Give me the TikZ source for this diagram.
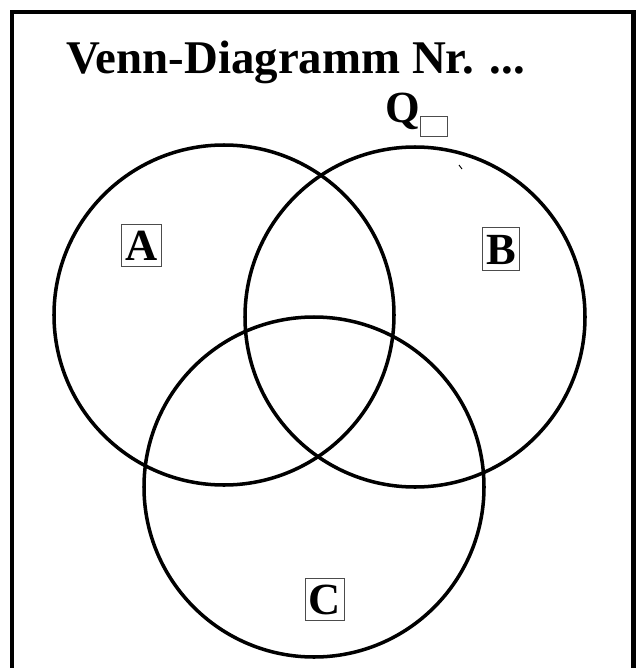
\documentclass[tikz,border=0pt]{standalone}
\usepackage{fontspec}
\setmainfont{Liberation Serif}
\usetikzlibrary{calc}

\begin{document}
\begin{tikzpicture}[x=0.03cm,y=-0.03cm,
    kreis/.style={line width=3pt},
    marke/.style={draw=black!70,line width=0.8pt,inner xsep=3pt,inner ysep=5.5pt,
      text height=25.6pt,text depth=0pt,font=\fontsize{38}{40}\selectfont\bfseries},
    titel/.style={font=\fontsize{38}{40}\selectfont\bfseries,inner sep=0pt}]
  \useasboundingbox (0,0) rectangle (643,668);
  \begin{scope}
    \clip (0,0) rectangle (643,668);
    % Rahmen, unten abgeschnitten
    \draw[line width=3.6pt] (12,12) rectangle (633.5,700);
  \end{scope}
  \node[titel,anchor=base west,font=\fontsize{40}{42}\selectfont\bfseries] (titel) at (66,73) {Venn-Diagramm Nr. ...};
  \node[titel,anchor=base west] (q) at (385,122) {Q};
  \node[draw=black!70,line width=0.8pt,minimum width=27*0.03cm,minimum height=20*0.03cm,
    inner sep=0pt,anchor=north west] (qbox) at (420,116) {};
  % Kreise A, B, C
  \foreach \cx/\cy in {224/315,415/317,314/487}{
    \draw[kreis] (\cx,\cy) circle[radius=170];
  }
  \draw[line width=0.8pt] (459,165) -- (462,169);
  \node[marke] (lA) at (141.5,245.5) {A};
  \node[marke] (lB) at (501,249) {B};
  \node[marke] (lC) at (325,599.5) {C};
\end{tikzpicture}
\end{document}
